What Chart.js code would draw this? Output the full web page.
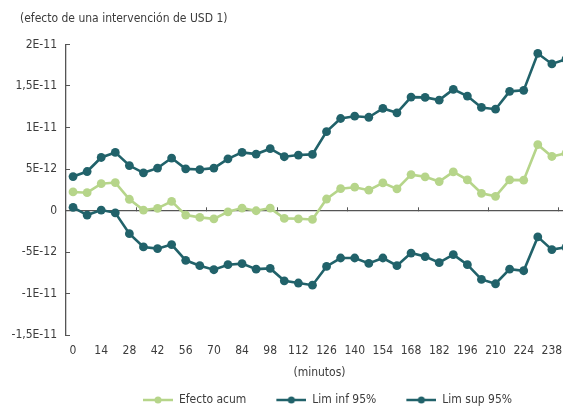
<!DOCTYPE html>
<html>
<head>
<meta charset="utf-8">
<script src="https://cdn.jsdelivr.net/npm/chart.js@4/dist/chart.umd.min.js"></script>
<style>
  html, body { margin: 0; padding: 0; overflow: hidden; background: #fff; }
</style>
</head>
<body>
<canvas id="chart" width="580" height="410"></canvas>
<script>
// minutes after the intervention (one point every 7 minutes)
const minutos = [0, 7, 14, 21, 28, 35, 42, 49, 56, 63, 70, 77, 84, 91, 98, 105, 112, 119,
  126, 133, 140, 147, 154, 161, 168, 175, 182, 189, 196, 203, 210, 217, 224, 231, 238, 245];

// values in units of 1E-12
const efectoAcum = [2.24, 2.15, 3.24, 3.37, 1.36, 0.06, 0.27, 1.11, -0.54, -0.82, -0.99, -0.15,
  0.30, -0.02, 0.30, -0.94, -0.99, -1.07, 1.39, 2.64, 2.81, 2.45, 3.33, 2.60,
  4.33, 4.06, 3.49, 4.66, 3.69, 2.08, 1.72, 3.69, 3.66, 7.93, 6.51, 6.90];
const limInf = [0.39, -0.54, 0.06, -0.27, -2.78, -4.38, -4.58, -4.09, -5.99, -6.63, -7.12, -6.51,
  -6.39, -7.05, -6.96, -8.45, -8.72, -8.98, -6.72, -5.71, -5.71, -6.36, -5.71, -6.63,
  -5.11, -5.54, -6.27, -5.30, -6.51, -8.29, -8.81, -7.05, -7.24, -3.17, -4.70, -4.42];
const limSup = [4.09, 4.70, 6.39, 7.00, 5.42, 4.54, 5.11, 6.32, 5.02, 4.94, 5.11, 6.23,
  7.00, 6.80, 7.45, 6.48, 6.68, 6.76, 9.50, 11.08, 11.36, 11.23, 12.29, 11.77,
  13.66, 13.62, 13.29, 14.59, 13.78, 12.41, 12.20, 14.35, 14.47, 18.91, 17.65, 18.22];

const yTickLabels = ['-1,5E-11', '-1E-11', '-5E-12', '0', '5E-12', '1E-11', '1,5E-11', '2E-11'];

const GREEN = '#b6d58a';
const TEAL = '#21626a';
const AXIS = '#555555';
const TEXT = '#3c3c3c';
const FONT = '"Liberation Sans Narrow", "DejaVu Sans Condensed", "Roboto", sans-serif';

// line + dot icon for the legend (20px of empty space on the left to space the items)
function legendIcon(color) {
  const c = document.createElement('canvas');
  c.width = 50; c.height = 10;
  const g = c.getContext('2d');
  g.strokeStyle = color; g.lineWidth = 2.5;
  g.beginPath(); g.moveTo(20, 5); g.lineTo(50, 5); g.stroke();
  g.fillStyle = color;
  g.beginPath(); g.arc(35, 5, 3.5, 0, Math.PI * 2); g.fill();
  return c;
}

function serie(label, data, color) {
  return {
    label,
    data,
    borderColor: color,
    backgroundColor: color,
    borderWidth: 2.6,
    pointRadius: 4.4,
    pointHoverRadius: 4.4,
    pointBorderWidth: 0,
    tension: 0,
    fill: false,
    icon: legendIcon(color)
  };
}

// nudge title and legend sideways to sit like the original
const nudge = {
  id: 'nudge',
  afterLayout(chart) {
    chart.titleBlock.left = 20;
    chart.legend.left += 56;
  }
};

Chart.defaults.font.family = FONT;
Chart.defaults.font.size = 12;
Chart.defaults.color = TEXT;

new Chart(document.getElementById('chart'), {
  type: 'line',
  data: {
    labels: minutos,
    datasets: [
      serie('Efecto acum', efectoAcum, GREEN),
      serie('Lim inf 95%', limInf, TEAL),
      serie('Lim sup 95%', limSup, TEAL)
    ]
  },
  plugins: [nudge],
  options: {
    responsive: false,
    animation: false,
    layout: { padding: { left: 6, right: 7, top: 4, bottom: -6 } },
    plugins: {
      tooltip: { enabled: false },
      title: {
        display: true,
        text: '(efecto de una intervención de USD 1)',
        align: 'start',
        color: TEXT,
        font: { size: 12, weight: 'normal' },
        padding: { top: 8, bottom: 18 }
      },
      legend: {
        position: 'bottom',
        labels: {
          usePointStyle: true,
          pointStyleWidth: 50,
          padding: 10,
          color: TEXT,
          font: { size: 12 },
          generateLabels(chart) {
            const items = Chart.defaults.plugins.legend.labels.generateLabels(chart);
            items.forEach(it => { it.pointStyle = chart.data.datasets[it.datasetIndex].icon; });
            return items;
          }
        }
      }
    },
    scales: {
      x: {
        type: 'category',
        offset: true,
        grid: { display: false, drawTicks: false },
        border: { display: false },
        ticks: {
          autoSkip: false,
          maxRotation: 0,
          padding: 8,
          color: TEXT,
          callback(v, i) { return i % 2 === 0 ? this.getLabelForValue(v) : ''; }
        },
        title: { display: true, text: '(minutos)', color: TEXT, padding: { top: 0, bottom: 4 } }
      },
      x0: {
        type: 'category',
        position: { y: 0 },
        offset: true,
        grid: {
          offset: true,
          drawOnChartArea: false,
          drawTicks: true,
          tickLength: -4,
          lineWidth: 1,
          color: ctx => (ctx.index % 5 === 0 && ctx.index > 0) ? AXIS : 'rgba(0,0,0,0)'
        },
        border: { display: true, color: AXIS, width: 1.3 },
        ticks: { display: false }
      },
      y: {
        min: -15,
        max: 20,
        ticks: {
          stepSize: 5,
          padding: 13,
          color: TEXT,
          callback(v, i) { return yTickLabels[i]; }
        },
        grid: {
          drawOnChartArea: false,
          drawTicks: true,
          tickLength: -4,
          color: AXIS
        },
        border: { display: true, color: AXIS, width: 1.3 },
        afterFit(scale) { scale.width = 60; }
      }
    }
  }
});
</script>
</body>
</html>
